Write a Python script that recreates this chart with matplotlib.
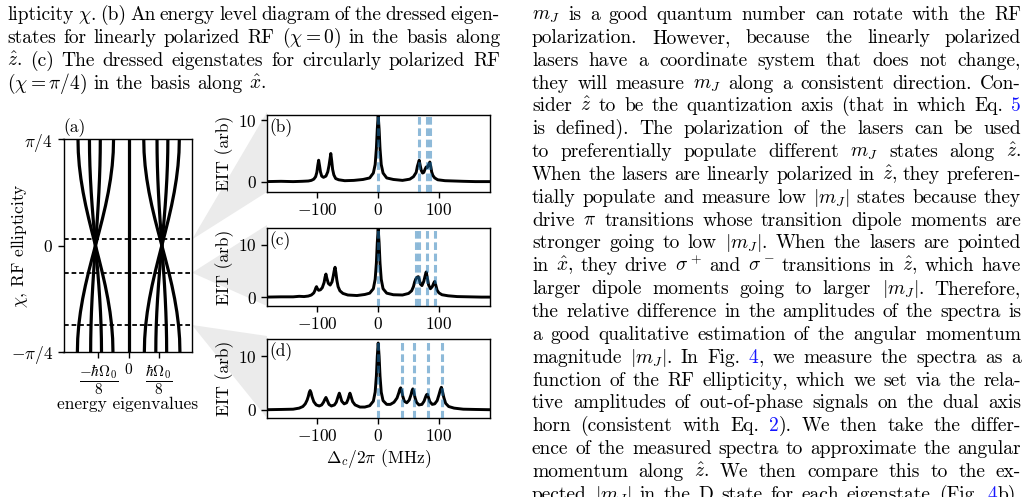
import re
import numpy as np
import matplotlib
matplotlib.use('Agg')
import matplotlib.pyplot as plt
from matplotlib.patches import Polygon

W, H = 1028, 497

# (a) dressed energies, units of hbar*Omega0/8, read at chi = +pi/4
chi_grid = np.linspace(-np.pi / 4, np.pi / 4, 17)
shape = [-1.0, -0.981, -0.924, -0.831, -0.707, -0.556, -0.383, -0.195, 0.0,
         0.195, 0.383, 0.556, 0.707, 0.831, 0.924, 0.981, 1.0]
level_top = [-1.68, -1.30, -0.94, -0.50, 0.0, 0.50, 0.94, 1.30, 1.68]
level_cross = [-1.1, -1.1, -1.1, -1.1, 0.0, 1.1, 1.1, 1.1, 1.1]
chi_cuts = [0.045, -0.20, -0.585]

# (b) linear RF spectrum
b_x = [-185, -160, -140, -125, -115, -110, -106, -103, -101, -99.5, -98, -96.5, -95, -93,
       -90, -86, -83, -81, -79.5, -78, -76.5, -75, -73, -70, -65, -55, -40, -25, -14, -8,
       -5, -3, -1.5, 0, 1.5, 3, 5, 8, 14, 25, 40, 52, 58, 62.5, 64.5, 66, 67.5, 69, 71,
       73, 75, 77, 79, 81, 83, 85, 86.5, 88, 90, 93, 98, 110, 125, 140, 160, 185]
b_y = [0.0, 0.05, 0.0, 0.05, 0.1, 0.2, 0.4, 0.8, 1.5, 2.6, 3.5, 2.6, 1.6, 0.9,
       0.7, 0.9, 1.6, 2.6, 3.6, 4.6, 3.4, 2.0, 1.1, 0.5, 0.3, 0.15, 0.2, 0.35, 0.6, 1.4,
       2.8, 5.4, 8.6, 10.8, 8.6, 5.4, 2.8, 1.4, 0.6, 0.35, 0.2, 0.4, 0.8, 1.5, 2.5, 3.0, 3.5, 2.7, 1.8,
       1.4, 1.5, 2.0, 2.4, 2.3, 2.8, 3.2, 2.5, 1.6, 1.0, 0.6, 0.3, 0.15, 0.1, 0.05, 0.0, 0.0]
b_lines = [0, 67.5, 80, 85]

# (c) intermediate ellipticity
c_x = [-185, -160, -140, -130, -122, -115, -110, -106, -104, -102.5, -101.5, -100, -98, -95,
       -92, -89, -87.5, -86, -84.5, -82, -79, -76, -74, -72.5, -71, -69.5, -68, -66, -63,
       -58, -50, -35, -22, -14, -8, -5, -3, -1.5, 0, 1.5, 3, 5, 8, 14, 25, 40, 50, 55, 58,
       60, 62, 64, 66, 67.5, 69.5, 72, 75, 77.5, 79, 80.5, 83, 86, 89, 91.5, 93, 94.5, 97,
       100, 105, 115, 130, 150, 170, 185]
c_y = [0.0, 0.05, 0.05, 0.15, 0.1, 0.2, 0.4, 0.8, 1.3, 1.8, 2.0, 1.6, 1.3, 1.4,
       1.8, 2.8, 3.8, 4.4, 3.6, 2.6, 2.3, 2.9, 4.0, 5.0, 5.7, 4.6, 3.2, 2.0, 1.2,
       0.7, 0.4, 0.3, 0.5, 0.75, 1.6, 3.4, 6.5, 10.4, 13.0, 10.4, 6.5, 3.4, 1.6, 0.75, 0.45, 0.4, 0.7, 1.2, 2.0,
       2.9, 3.5, 3.8, 3.9, 3.4, 2.5, 2.2, 3.0, 4.2, 4.8, 3.9, 2.3, 1.6, 2.0, 2.7, 3.0, 2.4, 1.3,
       0.8, 0.45, 0.25, 0.1, 0.05, 0.0, 0.0]
c_lines = [0, 63, 66.5, 79.5, 92.7]

# (d) circular RF
d_x = [-185, -160, -140, -130, -124, -120, -117, -115, -113.5, -112, -110.5, -109, -106, -102,
       -97, -93, -90, -88, -86, -84, -81, -77, -72, -69, -66.5, -65, -64, -62.5, -60, -56,
       -52, -49.5, -48, -46.5, -45, -42, -38, -30, -22, -14, -8, -5, -3, -1.5, 0, 1.5, 3,
       5, 8, 14, 20, 26, 31, 34, 35.5, 37, 38.5, 40.5, 43, 47, 51, 54, 55.5, 57, 58.5, 60.5,
       63, 67, 72, 75.5, 78, 79.5, 81, 82.5, 85, 89, 93, 97, 100, 102.5, 104, 105.5, 108,
       111, 116, 125, 140, 160, 185]
d_y = [0.0, 0.05, 0.1, 0.3, 0.6, 1.1, 1.8, 2.5, 3.2, 3.6, 3.2, 2.5, 1.5, 0.9,
       0.7, 0.9, 1.4, 1.9, 2.3, 1.8, 1.0, 0.7, 0.9, 1.4, 2.3, 2.8, 3.1, 2.6, 1.6, 1.1,
       1.3, 2.0, 2.6, 3.1, 2.6, 1.5, 0.9, 0.5, 0.5, 0.75, 1.6, 3.3, 6.3, 10.0, 12.5, 10.0, 6.3,
       3.3, 1.7, 1.0, 1.0, 1.4, 2.2, 3.2, 3.8, 4.1, 3.6, 2.5, 1.6, 1.3, 1.8, 2.8, 3.5, 3.9, 3.4, 2.3,
       1.4, 0.9, 1.0, 1.6, 2.4, 2.8, 2.9, 2.4, 1.5, 1.0, 1.1, 1.7, 2.8, 3.8, 4.2, 3.6, 2.3,
       1.2, 0.6, 0.3, 0.1, 0.05, 0.0]
d_lines = [0, 38.5, 59, 82, 105]

caption = [
    r"lipticity $\chi$. (b) An energy level diagram of the dressed eigen-",
    r"states for linearly polarized RF $(\chi=0)$ in the basis along",
    r"$\hat{z}$.  (c) The dressed eigenstates for circularly polarized RF",
    r"$(\chi=\pi/4)$ in the basis along $\hat{x}$.",
]
body = [
    r"$m_J$ is a good quantum number can rotate with the RF",
    r"polarization.  However, because the linearly polarized",
    r"lasers have a coordinate system that does not change,",
    r"they will measure $m_J$ along a consistent direction. Con-",
    r"sider $\hat{z}$ to be the quantization axis (that in which Eq. [5]",
    r"is defined).  The polarization of the lasers can be used",
    r"to preferentially populate different $m_J$ states along $\hat{z}$.",
    r"When the lasers are linearly polarized in $\hat{z}$, they preferen-",
    r"tially populate and measure low $|m_J|$ states because they",
    r"drive $\pi$ transitions whose transition dipole moments are",
    r"stronger going to low $|m_J|$. When the lasers are pointed",
    r"in $\hat{x}$, they drive $\sigma^+$ and $\sigma^-$ transitions in $\hat{z}$, which have",
    r"larger dipole moments going to larger $|m_J|$.  Therefore,",
    r"the relative difference in the amplitudes of the spectra is",
    r"a good qualitative estimation of the angular momentum",
    r"magnitude $|m_J|$. In Fig. [4], we measure the spectra as a",
    r"function of the RF ellipticity, which we set via the rela-",
    r"tive amplitudes of out-of-phase signals on the dual axis",
    r"horn (consistent with Eq. [2]).  We then take the differ-",
    r"ence of the measured spectra to approximate the angular",
    r"momentum along $\hat{z}$.  We then compare this to the ex-",
    r"pected $|m_J|$ in the D state for each eigenstate (Fig. [4]b).",
]

plt.rcParams['font.family'] = 'cmr10'
plt.rcParams['mathtext.fontset'] = 'cm'
plt.rcParams['axes.formatter.use_mathtext'] = True
plt.rcParams['axes.linewidth'] = 1.0
plt.rcParams['xtick.major.width'] = 1.0
plt.rcParams['ytick.major.width'] = 1.0
plt.rcParams['xtick.major.size'] = 4
plt.rcParams['ytick.major.size'] = 4

fig = plt.figure(figsize=(W / 100, H / 100), dpi=100)
renderer = fig.canvas.get_renderer()


def box(l, t, r, b):
    return [l / W, 1 - b / H, (r - l) / W, (b - t) / H]


def draw_line(text, x0, x1, y, justify=True, size=14):
    pieces = []
    total = 0
    for word in text.split():
        items = []
        for s in re.split(r'(\[[^\]]*\])', word):
            if not s:
                continue
            col = 'black'
            if s.startswith('['):
                s, col = s[1:-1], '#1515ff'
            t = fig.text(0, 1 - y / H, s, fontsize=size, color=col, va='baseline', ha='left')
            items.append((t, t.get_window_extent(renderer).width))
        ww = sum(w for _, w in items)
        pieces.append(items)
        total += ww
    if justify and len(pieces) > 1:
        gap = (x1 - x0 - total) / (len(pieces) - 1)
    else:
        gap = size * 100 / 72 * 0.333
    x = x0
    for items in pieces:
        for t, w in items:
            t.set_x(x / W)
            x += w
        x += gap


for i, line in enumerate(caption):
    draw_line(line, 7, 500, 20 + 22.85 * i, justify=(i < len(caption) - 1))
for i, line in enumerate(body):
    draw_line(line, 532, 1021, 20 + 22.85 * i)

fs = 12.5

# (a)
ax_a = fig.add_axes(box(63.5, 139, 192, 352))
for top, cen in zip(level_top, level_cross):
    xs = [cen + (top - cen) * s for s in shape]
    ax_a.plot(xs, chi_grid, color='black', lw=2.3, solid_capstyle='butt')
for c in chi_cuts:
    ax_a.axhline(c, color='black', lw=1.3, dashes=(2.6, 1.6))
ax_a.set_xlim(-2.16, 2.1)
ax_a.set_ylim(-np.pi / 4, np.pi / 4)
ax_a.set_yticks([-np.pi / 4, 0, np.pi / 4])
ax_a.set_yticklabels([r'$-\pi/4$', r'$0$', r'$\pi/4$'], fontsize=fs)
ax_a.set_xticks([-1, 0, 1])
ax_a.set_xticklabels([r'$\dfrac{-\hbar\Omega_0}{8}$', r'$0$', r'$\dfrac{\hbar\Omega_0}{8}$'], fontsize=fs - 1.5)
ax_a.set_xlabel('energy eigenvalues', fontsize=fs, labelpad=0)
ax_a.set_ylabel(r'$\chi$, RF ellipticity', fontsize=fs)
ax_a.yaxis.set_label_coords(-0.26, 0.5)
ax_a.text(0.0, 1.01, '(a)', transform=ax_a.transAxes, fontsize=fs, ha='left', va='bottom')

# (b)-(d)
panel_boxes = [(267, 115, 490, 192), (267, 228, 490, 306), (267, 339, 490, 418)]
spectra = [(b_x, b_y, b_lines, (-1.7, 10.9), '(b)', 239.5),
           (c_x, c_y, c_lines, (-1.7, 13.2), '(c)', 272.7),
           (d_x, d_y, d_lines, (-1.55, 13.25), '(d)', 325)]
for pb, (x, y, lines, ylim, lab, apex) in zip(panel_boxes, spectra):
    l, t, r, b = pb
    fig.add_artist(Polygon([(192 / W, 1 - apex / H), (l / W, 1 - (t - 3) / H), (l / W, 1 - b / H)],
                           closed=True, facecolor='#ebebeb', edgecolor='none', zorder=-1))
    ax = fig.add_axes(box(*pb))
    ax.plot(x, y, color='black', lw=2.1, zorder=2)
    for v in lines:
        ax.axvline(v, color='#1f77b4', alpha=0.5, lw=2.2, dashes=(2.5, 1.2), zorder=3)
    ax.set_xlim(-183, 184)
    ax.set_ylim(ylim)
    ax.set_yticks([0, 10])
    ax.set_yticklabels([r'$0$', r'$10$'], fontsize=fs)
    ax.set_xticks([-100, 0, 100])
    ax.set_xticklabels([r'$-100$', r'$0$', r'$100$'], fontsize=fs)
    ax.set_ylabel('EIT (arb)', fontsize=fs, labelpad=3)
    ax.text(0.012, 0.96, lab, transform=ax.transAxes, fontsize=fs, ha='left', va='top')
ax.set_xlabel(r'$\Delta_c/2\pi$ (MHz)', fontsize=fs, labelpad=2)

fig.savefig('out.png', dpi=100)
